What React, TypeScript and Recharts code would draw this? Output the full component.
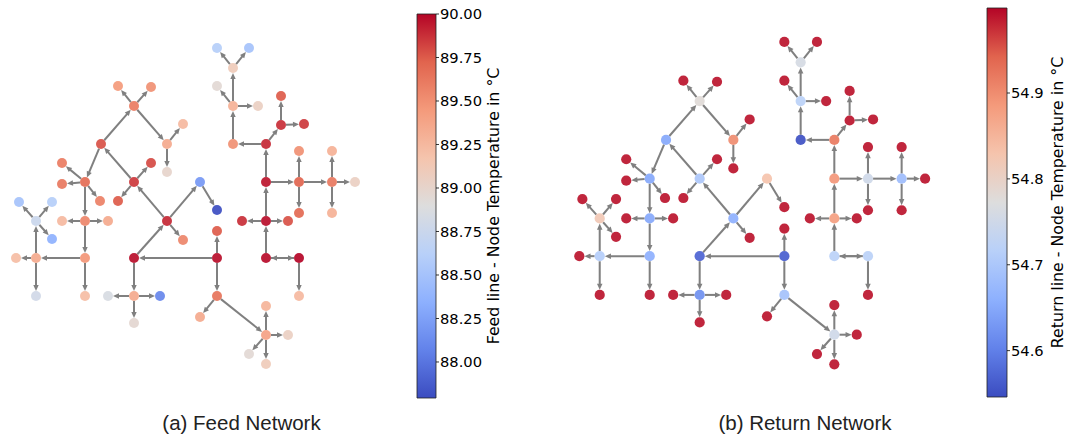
import React from 'react';
import { ScatterChart, Scatter, XAxis, YAxis, ReferenceLine, ComposedChart, ReferenceArea } from 'recharts';

// layout positions of the network nodes (same graph for feed and return)
const nodeX = [
  217, 249, 233, 217, 233, 258, 233, 266, 281, 281, 304, 266, 299, 299, 299, 332, 332, 332, 355, 266,
  242, 288, 266, 299, 299, 217, 217, 217, 200, 266, 266, 288, 249, 266, 134, 167, 134, 108, 160, 134,
  183, 200, 217, 134, 151, 118, 101, 134, 118, 151, 167, 183, 167, 85, 62, 62, 100, 85, 62, 108,
  85, 85, 36, 16, 36, 36, 19, 52, 52,
];
const nodeY = [
  48, 48, 68, 86, 106, 106, 144, 144, 125, 96, 124, 182, 182, 151, 213, 182, 151, 213, 182, 221,
  221, 221, 258, 258, 296, 258, 231, 296, 317, 335, 306, 335, 354, 364, 258, 221, 296, 296, 296, 323,
  240, 182, 210, 182, 163, 201, 144, 106, 86, 87, 144, 124, 172, 182, 163, 184, 201, 221, 221, 221,
  258, 296, 258, 258, 296, 221, 202, 202, 239,
];

// node temperatures in °C
const feedTemp = [
  88.6, 88.5, 89.1, 88.95, 89.3, 89.05, 89.5, 89.9, 89.88, 89.75, 89.85, 89.95, 89.72, 89.5, 89.7, 89.62, 89.3, 89.3, 89.05, 89.97,
  89.88, 89.78, 89.98, 90.0, 89.25, 89.97, 89.75, 89.65, 89.35, 89.4, 89.28, 89.05, 88.95, 89.1, 89.97, 89.9, 89.35, 88.85, 88.1, 88.97,
  89.55, 88.2, 87.8, 89.85, 89.8, 89.75, 89.78, 89.6, 89.45, 89.5, 89.35, 89.25, 89.0, 89.68, 89.6, 89.62, 89.58, 89.55, 89.25, 89.35,
  89.47, 89.22, 89.35, 89.22, 88.8, 88.75, 88.5, 88.6, 88.35,
];
const returnTemp = [
  54.99, 54.99, 54.76, 54.99, 54.72, 54.99, 54.55, 54.92, 54.99, 54.99, 54.99, 54.89, 54.75, 54.99, 54.99, 54.68, 54.99, 54.99, 54.99, 54.88,
  54.99, 54.99, 54.72, 54.72, 54.99, 54.565, 54.99, 54.69, 54.99, 54.75, 54.99, 54.99, 54.99, 54.99, 54.57, 54.66, 54.62, 54.99, 54.99, 54.99,
  54.99, 54.83, 54.99, 54.70, 54.99, 54.99, 54.65, 54.78, 54.99, 54.99, 54.90, 54.99, 54.99, 54.65, 54.99, 54.99, 54.99, 54.65, 54.99, 54.99,
  54.66, 54.99, 54.71, 54.99, 54.99, 54.82, 54.99, 54.99, 54.99,
];

// directed pipes (node index from -> to)
const edgeFrom = [
  2, 2, 4, 4, 4, 6, 7, 7, 8, 8, 11, 11, 12, 12, 12, 15, 15, 15, 19, 19,
  19, 22, 23, 23, 22, 25, 25, 27, 27, 29, 29, 29, 29, 25, 34, 34, 36, 36, 36, 35,
  35, 35, 41, 43, 43, 43, 46, 47, 47, 47, 50, 50, 46, 53, 53, 53, 53, 57, 57, 57,
  60, 60, 62, 62, 62, 65, 65, 65,
];
const edgeTo = [
  0, 1, 2, 3, 5, 4, 6, 8, 9, 10, 7, 12, 13, 14, 15, 16, 17, 18, 11, 20,
  21, 19, 22, 24, 23, 26, 27, 28, 29, 30, 31, 32, 33, 34, 35, 36, 37, 38, 39, 43,
  40, 41, 42, 44, 45, 46, 47, 48, 49, 50, 51, 52, 53, 54, 55, 56, 57, 58, 59, 60,
  62, 61, 63, 64, 65, 66, 67, 68,
];

const feedTicks = [88.0, 88.25, 88.5, 88.75, 89.0, 89.25, 89.5, 89.75, 90.0];
const returnTicks = [54.6, 54.7, 54.8, 54.9];
const feedRange = [87.793, 90.0];
const returnRange = [54.546, 54.999];

// matplotlib coolwarm
const COOLWARM = [
  [59, 76, 192], [98, 130, 234], [141, 176, 254], [184, 208, 249], [221, 221, 221],
  [245, 196, 173], [244, 154, 123], [225, 100, 78], [180, 4, 38],
];
const coolwarm = (t: number) => {
  const c = Math.max(0, Math.min(1, t)) * (COOLWARM.length - 1);
  const i = Math.min(COOLWARM.length - 2, Math.floor(c));
  const f = c - i;
  const a = COOLWARM[i], b = COOLWARM[i + 1];
  const rgb = a.map((v, k) => Math.round(v + (b[k] - v) * f));
  return `rgb(${rgb[0]},${rgb[1]},${rgb[2]})`;
};

const buildNodes = (temps: number[], range: number[]) =>
  nodeX.map((x, i) => ({ x, y: nodeY[i], fill: coolwarm((temps[i] - range[0]) / (range[1] - range[0])) }));

const feedNodes = buildNodes(feedTemp, feedRange);
const returnNodes = buildNodes(returnTemp, returnRange);

const EDGE = '#808080';

const arrowEdge = (r: number, s: number) => (props: any) => {
  const { x1, y1, x2, y2 } = props;
  const dx = x2 - x1, dy = y2 - y1;
  const len = Math.hypot(dx, dy) || 1;
  const ux = dx / len, uy = dy / len;
  const px = -uy, py = ux;
  const L = 6 * s, W = 2.7 * s;
  const sx = x1 + ux * r, sy = y1 + uy * r;
  const tx = x2 - ux * r, ty = y2 - uy * r;
  const bx = tx - ux * L, by = ty - uy * L;
  return (
    <g>
      <line x1={sx} y1={sy} x2={bx + ux} y2={by + uy} stroke={EDGE} strokeWidth={2 * s} />
      <polygon points={`${tx},${ty} ${bx + px * W},${by + py * W} ${bx - px * W},${by - py * W}`} fill={EDGE} />
    </g>
  );
};

const Network = ({ nodes, scale }: { nodes: any[]; scale: number }) => {
  const size = 400 * scale;
  const r = 5 * scale;
  return (
    <ScatterChart width={size} height={size} margin={{ top: 0, right: 0, bottom: 0, left: 0 }}>
      <XAxis type="number" dataKey="x" domain={[0, 400]} hide />
      <YAxis type="number" dataKey="y" domain={[0, 400]} reversed hide />
      {edgeFrom.map((a, i) => (
        <ReferenceLine
          key={`e-${i}`}
          segment={[{ x: nodeX[a], y: nodeY[a] }, { x: nodeX[edgeTo[i]], y: nodeY[edgeTo[i]] }]}
          shape={arrowEdge(r, scale)}
          ifOverflow="visible"
        />
      ))}
      <Scatter
        data={nodes}
        isAnimationActive={false}
        shape={(p: any) => <circle cx={p.cx} cy={p.cy} r={r} fill={p.payload.fill} fillOpacity={0.92} />}
      />
    </ScatterChart>
  );
};

// gradient stops ordered top (hot) to bottom (cold)
const GRAD_STOPS = COOLWARM.slice().reverse().map((c, i) => ({
  offset: `${(i / (COOLWARM.length - 1)) * 100}%`,
  color: `rgb(${c[0]},${c[1]},${c[2]})`,
}));

const Colorbar = ({
  id, range, ticks, digits, label, width, height, margin, axisWidth, labelDx,
}: any) => (
  <ComposedChart width={width} height={height} margin={margin} data={[{ x: 0, y: range[0] }]}>
    <defs>
      <linearGradient id={id} x1="0" y1="0" x2="0" y2="1">
        {GRAD_STOPS.map((s, i) => (
          <stop key={i} offset={s.offset} stopColor={s.color} />
        ))}
      </linearGradient>
    </defs>
    <XAxis type="number" dataKey="x" domain={[0, 1]} hide />
    <YAxis
      type="number"
      orientation="right"
      domain={range}
      allowDataOverflow
      ticks={ticks}
      interval={0}
      width={axisWidth}
      axisLine={false}
      tickLine={{ stroke: '#000', strokeWidth: 0.8 }}
      tickSize={3}
      tickMargin={1}
      tickFormatter={(v: number) => v.toFixed(digits)}
      tick={{ fill: '#000', fontSize: 14.7, fontFamily: 'DejaVu Sans' }}
      label={{
        value: label,
        content: (p: any) => {
          const vb = p.viewBox || { x: 0, y: margin.top, width: axisWidth, height: height - margin.top - margin.bottom };
          const cx = vb.x + labelDx;
          const cy = vb.y + vb.height / 2;
          return (
            <text
              x={cx}
              y={cy}
              transform={`rotate(-90, ${cx}, ${cy})`}
              textAnchor="middle"
              dominantBaseline="central"
              fill="#000"
              fontSize={15.8}
              fontFamily="DejaVu Sans"
            >
              {label}
            </text>
          );
        },
      }}
    />
    <ReferenceArea
      x1={0}
      x2={1}
      y1={range[0]}
      y2={range[1]}
      fill={`url(#${id})`}
      fillOpacity={1}
      stroke="#222"
      strokeWidth={0.8}
      ifOverflow="visible"
    />
  </ComposedChart>
);

const caption: React.CSSProperties = {
  position: 'absolute',
  top: 412.6,
  width: 300,
  textAlign: 'center',
  fontFamily: '"Liberation Sans", Arial, sans-serif',
  fontSize: 20.5,
  lineHeight: 1,
  color: '#222',
  whiteSpace: 'nowrap',
};

export default function App() {
  return (
    <div style={{ position: 'absolute', left: 0, top: 0, width: 1068, height: 440, background: '#fff', overflow: 'hidden' }}>
      <div style={{ position: 'absolute', left: 0, top: 0 }}>
        <Network nodes={feedNodes} scale={1} />
      </div>
      <div style={{ position: 'absolute', left: 562.7, top: -7 }}>
        <Network nodes={returnNodes} scale={1.02} />
      </div>
      <div style={{ position: 'absolute', left: 410, top: 0 }}>
        <Colorbar
          id="feedGrad"
          range={feedRange}
          ticks={feedTicks}
          digits={2}
          label="Feed line - Node Temperature in °C"
          width={110}
          height={420}
          margin={{ top: 14, right: 0, bottom: 22, left: 7 }}
          axisWidth={84}
          labelDx={57}
        />
      </div>
      <div style={{ position: 'absolute', left: 960, top: 0 }}>
        <Colorbar
          id="returnGrad"
          range={returnRange}
          ticks={returnTicks}
          digits={1}
          label="Return line - Node Temperature in °C"
          width={108}
          height={420}
          margin={{ top: 8, right: 0, bottom: 23, left: 27 }}
          axisWidth={61}
          labelDx={50}
        />
      </div>
      <div style={{ ...caption, left: 241.5 - 150 }}>(a) Feed Network</div>
      <div style={{ ...caption, left: 805 - 150 }}>(b) Return Network</div>
    </div>
  );
}
